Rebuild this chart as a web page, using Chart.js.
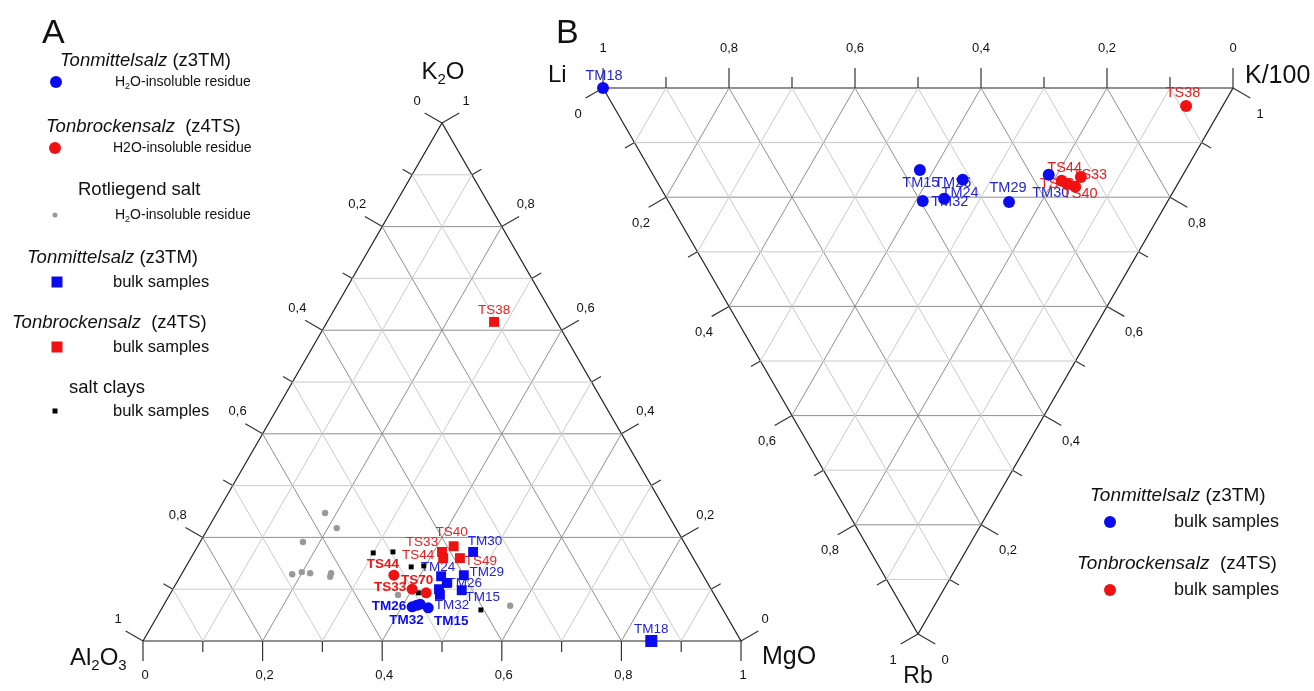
<!DOCTYPE html>
<html>
<head>
<meta charset="utf-8">
<script src="https://cdn.jsdelivr.net/npm/chart.js@4.4.1/dist/chart.umd.min.js"></script>
<style>
  html, body { margin: 0; padding: 0; background: #fff; }
  #wrap { width: 1314px; height: 691px; }
</style>
</head>
<body>
<div id="wrap"><canvas id="ternary" width="1314" height="691"></canvas></div>
<script>
// ---- data: diagram A (K2O - Al2O3 - MgO), fractions, Al2O3 = 1 - MgO - K2O ----
const tmResidueNames = ["TM26", "TM32", "", "TM15"];
const tmResidueMgO = [0.417, 0.423, 0.428, 0.445];
const tmResidueK2O = [0.066, 0.069, 0.071, 0.064];

const tsResidueNames = ["TS44", "TS33", "TS70"];
const tsResidueMgO = [0.356, 0.400, 0.427];
const tsResidueK2O = [0.127, 0.100, 0.093];

const rotliegendMgO = [0.181, 0.215, 0.172, 0.185, 0.199, 0.214, 0.249, 0.251, 0.382, 0.580];
const rotliegendK2O = [0.247, 0.218, 0.191, 0.129, 0.133, 0.131, 0.131, 0.124, 0.089, 0.068];

const tmBulkNames = ["TM30", "TM29", "TM24", "TM26", "TM15", "", "TM32", "TM18"];
const tmBulkMgO = [0.466, 0.473, 0.436, 0.452, 0.484, 0.445, 0.452, 0.850];
const tmBulkK2O = [0.172, 0.127, 0.125, 0.112, 0.098, 0.100, 0.089, 0.000];

const tsBulkNames = ["TS38", "TS33", "TS44", "TS40", "TS49"];
const tsBulkMgO = [0.279, 0.414, 0.422, 0.428, 0.450];
const tsBulkK2O = [0.616, 0.172, 0.160, 0.183, 0.160];

const saltClayMgO = [0.300, 0.332, 0.377, 0.397, 0.414, 0.535];
const saltClayK2O = [0.170, 0.172, 0.143, 0.145, 0.093, 0.060];

// ---- data: diagram B (Li - K/100 - Rb), Li = 1 - K - Rb ----
const tmBulkBNames = ["TM18", "TM15", "TM32", "TM24", "TM26", "TM29", "TM30"];
const tmBulkBK = [0.000, 0.428, 0.404, 0.440, 0.487, 0.540, 0.628];
const tmBulkBRb = [0.000, 0.150, 0.207, 0.203, 0.168, 0.209, 0.159];

const tsBulkBNames = ["TS38", "TS44", "TS49", "TS40", "TS33"];
const tsBulkBK = [0.909, 0.643, 0.649, 0.659, 0.677];
const tsBulkBRb = [0.033, 0.170, 0.176, 0.181, 0.163];

const tickValues = [0, 0.2, 0.4, 0.6, 0.8, 1];
const tickLabels = ["0", "0,2", "0,4", "0,6", "0,8", "1"];

// ---- layout ----
const W = 1314, H = 691;
const FONT = '"Liberation Sans", Arial, Helvetica, sans-serif';
const BLUE = "#0b0bef", RED = "#f01212", GREY = "#999999";

// triangle vertices in canvas units: A = [Al2O3, MgO, K2O], B = [Li, K/100, Rb]
const triA = [{ x: 143, y: 641 }, { x: 741, y: 641 }, { x: 442, y: 123 }];
const triB = [{ x: 603, y: 88 }, { x: 1233, y: 88 }, { x: 918, y: 634 }];

function bary(tri, w) {
  return {
    x: w[0] * tri[0].x + w[1] * tri[1].x + w[2] * tri[2].x,
    y: w[0] * tri[0].y + w[1] * tri[1].y + w[2] * tri[2].y,
  };
}
const posA = (mg, k) => bary(triA, [1 - mg - k, mg, k]);
const posB = (k, rb) => bary(triB, [1 - k - rb, k, rb]);

// label offsets (px) relative to each point
const tmResidueOff = [[-23, -1], [-10, 15], [0, 0], [23, 13]];
const tsResidueOff = [[-11, -11], [-22, -2], [-9, -13]];
const tmBulkOff = [[12, -11], [23, -3], [-3, -9], [18, 0], [21, 7], [0, 0], [12, 10], [0, -12]];
const tsBulkOff = [[0, -12], [-20, -10], [-25, -3], [-2, -14], [21, 3]];
const tmBulkBOff = [[1, -12], [1, 13], [27, 1], [16, -6], [-10, 3], [-1, -14], [2, 18]];
const tsBulkBOff = [[-3, -13], [3, -13], [-10, 0], [5, 7], [9, -2]];

// ---- grid construction ----
function gridLines(tri, major) {
  const pts = [];
  for (let i = 1; i < 10; i++) {
    if ((i % 2 === 0) !== major) continue;
    const f = i / 10;
    for (let v = 0; v < 3; v++) {
      const a = (v + 1) % 3, b = (v + 2) % 3;
      const w1 = [0, 0, 0], w2 = [0, 0, 0];
      w1[v] = f; w1[a] = 1 - f;
      w2[v] = f; w2[b] = 1 - f;
      pts.push(bary(tri, w1), bary(tri, w2), { x: null, y: null });
    }
  }
  return pts;
}

function edgeLines(tri) {
  return [tri[0], tri[1], tri[2], tri[0]].map(p => ({ x: p.x, y: p.y }));
}

function outward(tri, a, b) {
  const cx = (tri[0].x + tri[1].x + tri[2].x) / 3, cy = (tri[0].y + tri[1].y + tri[2].y) / 3;
  const dx = tri[b].x - tri[a].x, dy = tri[b].y - tri[a].y, L = Math.hypot(dx, dy);
  let nx = -dy / L, ny = dx / L;
  const mx = (tri[a].x + tri[b].x) / 2, my = (tri[a].y + tri[b].y) / 2;
  if ((mx - cx) * nx + (my - cy) * ny < 0) { nx = -nx; ny = -ny; }
  return { nx, ny };
}

function tickLines(tri) {
  const pts = [];
  [[0, 1], [1, 2], [2, 0]].forEach(([a, b]) => {
    const n = outward(tri, a, b);
    for (let i = 0; i <= 10; i++) {
      const w = [0, 0, 0]; w[a] = 1 - i / 10; w[b] = i / 10;
      const p = bary(tri, w), len = i % 2 === 0 ? 20 : 11;
      pts.push(p, { x: p.x + n.nx * len, y: p.y + n.ny * len }, { x: null, y: null });
    }
  });
  return pts;
}

// sides: [vertexFrom, vertexTo, index of weight shown, label offset]
const sidesA = [[0, 1, 1, [2, 34]], [0, 2, 0, [-25, -22]], [1, 2, 2, [24, -22]]];
const sidesB = [[0, 1, 0, [0, -40]], [0, 2, 2, [-25, 26]], [1, 2, 1, [27, 26]]];

function tickTexts(tri, sides) {
  const out = [];
  sides.forEach(([a, b, shown, off]) => {
    tickValues.forEach((v, i) => {
      const w = [0, 0, 0];
      w[shown] = v;
      const other = shown === a ? b : a;
      w[other] = 1 - v;
      const p = bary(tri, w);
      out.push({ x: p.x + off[0], y: p.y + off[1], text: tickLabels[i] });
    });
  });
  return out;
}

function lineSet(data, color, width) {
  return {
    type: "line", data, borderColor: color, borderWidth: width, pointRadius: 0,
    spanGaps: false, fill: false, order: 10, tension: 0,
  };
}

function pointSet(data, style, radius, color) {
  return {
    type: "scatter", data, pointStyle: style, pointRadius: radius, pointHoverRadius: radius,
    backgroundColor: color, borderColor: color, borderWidth: 0, order: 0, isPoints: true,
  };
}

const zipA = (mg, k) => mg.map((m, i) => posA(m, k[i]));
const zipB = (kk, rb) => kk.map((v, i) => posB(v, rb[i]));

const tmResidueXY = zipA(tmResidueMgO, tmResidueK2O);
const tsResidueXY = zipA(tsResidueMgO, tsResidueK2O);
const rotliegendXY = zipA(rotliegendMgO, rotliegendK2O);
const tmBulkXY = zipA(tmBulkMgO, tmBulkK2O);
const tsBulkXY = zipA(tsBulkMgO, tsBulkK2O);
const saltClayXY = zipA(saltClayMgO, saltClayK2O);
const tmBulkBXY = zipB(tmBulkBK, tmBulkBRb);
const tsBulkBXY = zipB(tsBulkBK, tsBulkBRb);

const datasets = [
  pointSet(tmResidueXY, "circle", 5.5, BLUE),
  pointSet(tsResidueXY, "circle", 5.5, RED),
  pointSet(tmBulkXY.slice(0, 7), "rect", 7, BLUE),
  pointSet(tmBulkXY.slice(7), "rect", 8.5, BLUE),
  pointSet(tsBulkXY, "rect", 7, RED),
  pointSet(saltClayXY, "rect", 3.5, "#000"),
  pointSet(rotliegendXY, "circle", 3.2, GREY),
  pointSet(tmBulkBXY, "circle", 6, BLUE),
  pointSet(tsBulkBXY, "circle", 6, RED),
  lineSet(gridLines(triA, false), "#cacaca", 1),
  lineSet(gridLines(triB, false), "#cacaca", 1),
  lineSet(gridLines(triA, true), "#8e8e8e", 1),
  lineSet(gridLines(triB, true), "#8e8e8e", 1),
  lineSet(tickLines(triA), "#333", 1.2),
  lineSet(tickLines(triB), "#333", 1.2),
  lineSet(edgeLines(triA), "#222", 1.2),
  lineSet(edgeLines(triB), "#222", 1.2),
];

// point labels
function makeLabels(xy, names, offs, color, bold, size) {
  return xy.map((p, i) => ({
    x: p.x + offs[i][0], y: p.y + offs[i][1], text: names[i], color, bold, size,
  })).filter(l => l.text);
}
const pointLabels = [
  ...makeLabels(tmResidueXY, tmResidueNames, tmResidueOff, BLUE, true, 13.5),
  ...makeLabels(tsResidueXY, tsResidueNames, tsResidueOff, RED, true, 13.5),
  ...makeLabels(tmBulkXY, tmBulkNames, tmBulkOff, "#2424d8", false, 13.5),
  ...makeLabels(tsBulkXY, tsBulkNames, tsBulkOff, "#e82020", false, 13.5),
  ...makeLabels(tmBulkBXY, tmBulkBNames, tmBulkBOff, "#2424d8", false, 14.5),
  ...makeLabels(tsBulkBXY, tsBulkBNames, tsBulkBOff, "#e82020", false, 14.5),
];

// ---- text helpers ----
function fontFor(p, size) {
  const s = p.sub ? Math.round(size * 0.62) : size;
  return (p.italic ? "italic " : "") + (p.bold ? "bold " : "") + s + "px " + FONT;
}
function rich(ctx, parts, x, y, size, align, color) {
  ctx.fillStyle = color || "#111";
  ctx.textBaseline = "middle";
  ctx.textAlign = "left";
  let w = 0;
  parts.forEach(p => { ctx.font = fontFor(p, size); w += ctx.measureText(p.t).width; });
  let cx = align === "center" ? x - w / 2 : x;
  parts.forEach(p => {
    ctx.font = fontFor(p, size);
    ctx.fillText(p.t, cx, p.sub ? y + size * 0.32 : y);
    cx += ctx.measureText(p.t).width;
  });
}
const T = t => ({ t });
const S = t => ({ t, sub: true });
const I = t => ({ t, italic: true });

function marker(ctx, kind, x, y, r, color) {
  ctx.fillStyle = color;
  if (kind === "circle") {
    ctx.beginPath(); ctx.arc(x, y, r, 0, Math.PI * 2); ctx.fill();
  } else {
    ctx.fillRect(x - r, y - r, 2 * r, 2 * r);
  }
}

let labelsDrawn = false;
const textPlugin = {
  id: "ternaryText",
  beforeDatasetsDraw() { labelsDrawn = false; },
  beforeDatasetDraw(chart, args) {
    if (labelsDrawn || !chart.data.datasets[args.index].isPoints) return;
    labelsDrawn = true;
    const ctx = chart.ctx, sx = chart.scales.x, sy = chart.scales.y;
    ctx.save();
    ctx.textAlign = "center";
    ctx.textBaseline = "middle";
    pointLabels.forEach(l => {
      ctx.font = (l.bold ? "bold " : "") + l.size + "px " + FONT;
      ctx.fillStyle = l.color;
      ctx.fillText(l.text, sx.getPixelForValue(l.x), sy.getPixelForValue(l.y));
    });
    ctx.restore();
  },
  afterDatasetsDraw(chart) {
    const ctx = chart.ctx, sx = chart.scales.x, sy = chart.scales.y;
    ctx.save();
    // tick labels
    ctx.fillStyle = "#111";
    ctx.font = "13px " + FONT;
    ctx.textAlign = "center";
    ctx.textBaseline = "middle";
    [...tickTexts(triA, sidesA), ...tickTexts(triB, sidesB)].forEach(t => {
      ctx.fillText(t.text, sx.getPixelForValue(t.x), sy.getPixelForValue(t.y));
    });

    // vertex names
    rich(ctx, [T("K"), S("2"), T("O")], 443, 72, 24, "center");
    rich(ctx, [T("Al"), S("2"), T("O"), S("3")], 70, 658, 24, "left");
    rich(ctx, [T("MgO")], 762, 657, 25, "left");
    rich(ctx, [T("Li")], 548, 75, 24, "left");
    rich(ctx, [T("K/100")], 1245, 76, 25, "left");
    rich(ctx, [T("Rb")], 918, 677, 23, "center");

    // panel letters
    rich(ctx, [T("A")], 42, 34, 34, "left");
    rich(ctx, [T("B")], 556, 34, 34, "left");

    // legend A
    rich(ctx, [I("Tonmittelsalz"), T(" (z3TM)")], 60, 61, 18.5, "left");
    marker(ctx, "circle", 56, 82, 6, BLUE);
    rich(ctx, [T("H"), S("2"), T("O-insoluble residue")], 115, 82, 14, "left");

    rich(ctx, [I("Tonbrockensalz"), T("  (z4TS)")], 46, 127, 18.5, "left");
    marker(ctx, "circle", 55, 148, 6, RED);
    rich(ctx, [T("H2O-insoluble residue")], 113, 148, 14, "left");

    rich(ctx, [T("Rotliegend salt")], 78, 190, 18.5, "left");
    marker(ctx, "circle", 55, 215, 2.5, GREY);
    rich(ctx, [T("H"), S("2"), T("O-insoluble residue")], 115, 215, 14, "left");

    rich(ctx, [I("Tonmittelsalz"), T(" (z3TM)")], 27, 258, 18.5, "left");
    marker(ctx, "rect", 57, 282, 5.5, BLUE);
    rich(ctx, [T("bulk samples")], 113, 282, 16.5, "left");

    rich(ctx, [I("Tonbrockensalz"), T("  (z4TS)")], 12, 323, 18.5, "left");
    marker(ctx, "rect", 57, 347, 5.5, RED);
    rich(ctx, [T("bulk samples")], 113, 347, 16.5, "left");

    rich(ctx, [T("salt clays")], 69, 388, 18.5, "left");
    marker(ctx, "rect", 55, 411, 2.5, "#000");
    rich(ctx, [T("bulk samples")], 113, 411, 16.5, "left");

    // legend B
    rich(ctx, [I("Tonmittelsalz"), T(" (z3TM)")], 1090, 496, 19, "left");
    marker(ctx, "circle", 1110, 522, 6, BLUE);
    rich(ctx, [T("bulk samples")], 1174, 522, 18, "left");
    rich(ctx, [I("Tonbrockensalz"), T("  (z4TS)")], 1077, 564, 19, "left");
    marker(ctx, "circle", 1110, 590, 6, RED);
    rich(ctx, [T("bulk samples")], 1174, 590, 18, "left");
    ctx.restore();
  },
};

new Chart(document.getElementById("ternary"), {
  type: "scatter",
  data: { datasets },
  options: {
    responsive: false,
    animation: false,
    layout: { padding: 0, autoPadding: false },
    scales: {
      x: { type: "linear", min: 0, max: W, display: false },
      y: { type: "linear", min: 0, max: H, reverse: true, display: false },
    },
    plugins: { legend: { display: false }, tooltip: { enabled: false } },
    events: [],
  },
  plugins: [textPlugin],
});
</script>
</body>
</html>
